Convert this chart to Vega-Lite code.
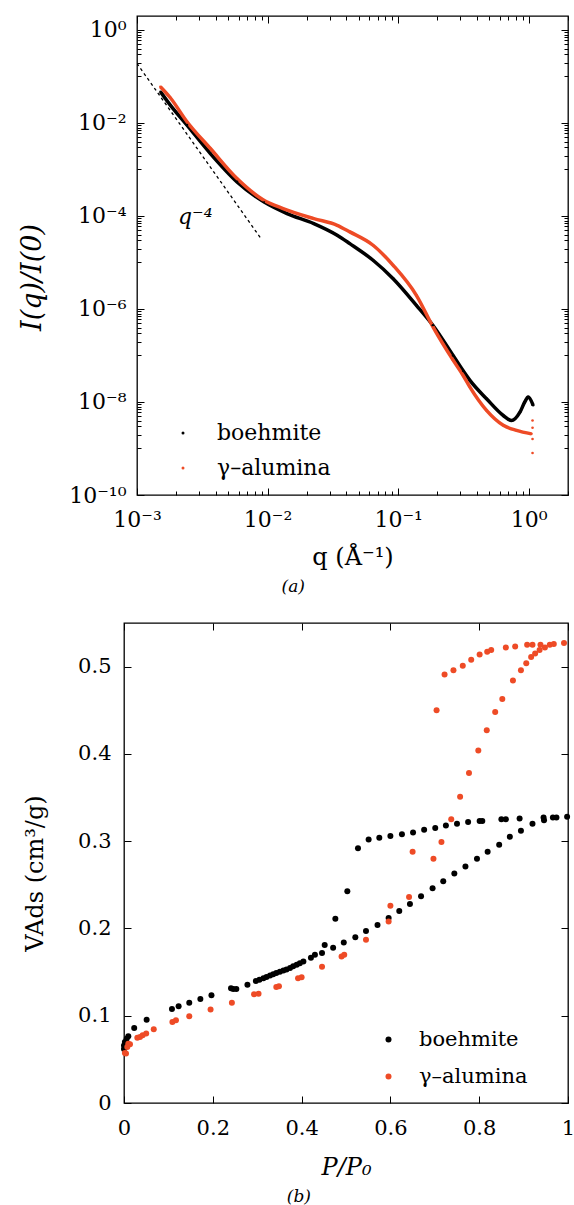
{
  "$schema": "https://vega.github.io/schema/vega-lite/v6.json",
  "padding": {"left": 17, "top": 14, "right": 4, "bottom": 0},
  "background": "white",
  "spacing": 25,
  "resolve": {"scale": {"color": "independent"}, "legend": {"color": "independent"}},
  "datasets": {
    "saxs": [
      {"sample": "boehmite", "q": 0.001514, "I": 0.0468},
      {"sample": "boehmite", "q": 0.001799, "I": 0.02427},
      {"sample": "boehmite", "q": 0.002415, "I": 0.009016},
      {"sample": "boehmite", "q": 0.003648, "I": 0.002203},
      {"sample": "boehmite", "q": 0.005834, "I": 0.000542},
      {"sample": "boehmite", "q": 0.009354, "I": 0.0002014},
      {"sample": "boehmite", "q": 0.01409, "I": 0.0001127},
      {"sample": "boehmite", "q": 0.02259, "I": 6.871e-5},
      {"sample": "boehmite", "q": 0.03412, "I": 3.864e-5},
      {"sample": "boehmite", "q": 0.04266, "I": 2.547e-5},
      {"sample": "boehmite", "q": 0.06427, "I": 1.117e-5},
      {"sample": "boehmite", "q": 0.09162, "I": 4.487e-6},
      {"sample": "boehmite", "q": 0.138, "I": 1.202e-6},
      {"sample": "boehmite", "q": 0.1845, "I": 4.467e-7},
      {"sample": "boehmite", "q": 0.2636, "I": 1.0e-7},
      {"sample": "boehmite", "q": 0.3148, "I": 4.677e-8},
      {"sample": "boehmite", "q": 0.3548, "I": 2.917e-8},
      {"sample": "boehmite", "q": 0.4753, "I": 1.175e-8},
      {"sample": "boehmite", "q": 0.6383, "I": 5.129e-9},
      {"sample": "boehmite", "q": 0.7379, "I": 3.981e-9},
      {"sample": "boehmite", "q": 0.857, "I": 6.026e-9},
      {"sample": "boehmite", "q": 0.933, "I": 1.0e-8},
      {"sample": "boehmite", "q": 0.9908, "I": 1.274e-8},
      {"sample": "boehmite", "q": 1.081, "I": 8.511e-9},
      {"sample": "γ–alumina", "q": 0.00151, "I": 0.0603},
      {"sample": "γ–alumina", "q": 0.001799, "I": 0.0349},
      {"sample": "γ–alumina", "q": 0.002415, "I": 0.01062},
      {"sample": "γ–alumina", "q": 0.003648, "I": 0.002825},
      {"sample": "γ–alumina", "q": 0.005834, "I": 0.0006383},
      {"sample": "γ–alumina", "q": 0.009354, "I": 0.0002188},
      {"sample": "γ–alumina", "q": 0.01315, "I": 0.0001445},
      {"sample": "γ–alumina", "q": 0.02259, "I": 8.79e-5},
      {"sample": "γ–alumina", "q": 0.03412, "I": 6.31e-5},
      {"sample": "γ–alumina", "q": 0.04266, "I": 4.55e-5},
      {"sample": "γ–alumina", "q": 0.06427, "I": 2.35e-5},
      {"sample": "γ–alumina", "q": 0.09162, "I": 8.71e-6},
      {"sample": "γ–alumina", "q": 0.138, "I": 1.972e-6},
      {"sample": "γ–alumina", "q": 0.1862, "I": 3.981e-7},
      {"sample": "γ–alumina", "q": 0.2636, "I": 7.943e-8},
      {"sample": "γ–alumina", "q": 0.3148, "I": 3.715e-8},
      {"sample": "γ–alumina", "q": 0.3548, "I": 2.089e-8},
      {"sample": "γ–alumina", "q": 0.4753, "I": 6.607e-9},
      {"sample": "γ–alumina", "q": 0.6383, "I": 3.162e-9},
      {"sample": "γ–alumina", "q": 0.8072, "I": 2.455e-9},
      {"sample": "γ–alumina", "q": 1.05, "I": 2.065e-9}
    ],
    "saxsEnd": [
      {"q": 1.07, "I": 4.0e-9},
      {"q": 1.07, "I": 2.8e-9},
      {"q": 1.07, "I": 1.6e-9},
      {"q": 1.07, "I": 8.0e-10}
    ],
    "q4": [
      {"q": 0.001, "I": 0.19},
      {"q": 0.00895, "I": 3.2e-5}
    ],
    "lbl": [
      {"q": 0.00206, "I": 6.8e-5, "t": "q⁻⁴"}
    ],
    "iso": [
      {"sample": "boehmite", "P": 0.0, "V": 0.062},
      {"sample": "boehmite", "P": 0.0, "V": 0.066},
      {"sample": "boehmite", "P": 0.002, "V": 0.07},
      {"sample": "boehmite", "P": 0.006, "V": 0.0737},
      {"sample": "boehmite", "P": 0.0097, "V": 0.0764},
      {"sample": "boehmite", "P": 0.023, "V": 0.0859},
      {"sample": "boehmite", "P": 0.051, "V": 0.0955},
      {"sample": "boehmite", "P": 0.108, "V": 0.1077},
      {"sample": "boehmite", "P": 0.123, "V": 0.1108},
      {"sample": "boehmite", "P": 0.147, "V": 0.115},
      {"sample": "boehmite", "P": 0.172, "V": 0.1191},
      {"sample": "boehmite", "P": 0.197, "V": 0.1234},
      {"sample": "boehmite", "P": 0.241, "V": 0.1314},
      {"sample": "boehmite", "P": 0.246, "V": 0.1306},
      {"sample": "boehmite", "P": 0.253, "V": 0.1306},
      {"sample": "boehmite", "P": 0.278, "V": 0.1356},
      {"sample": "boehmite", "P": 0.297, "V": 0.1398},
      {"sample": "boehmite", "P": 0.305, "V": 0.1413},
      {"sample": "boehmite", "P": 0.314, "V": 0.1428},
      {"sample": "boehmite", "P": 0.321, "V": 0.1443},
      {"sample": "boehmite", "P": 0.329, "V": 0.146},
      {"sample": "boehmite", "P": 0.336, "V": 0.1474},
      {"sample": "boehmite", "P": 0.343, "V": 0.149},
      {"sample": "boehmite", "P": 0.351, "V": 0.1505},
      {"sample": "boehmite", "P": 0.359, "V": 0.1517},
      {"sample": "boehmite", "P": 0.366, "V": 0.153},
      {"sample": "boehmite", "P": 0.374, "V": 0.1547},
      {"sample": "boehmite", "P": 0.381, "V": 0.1566},
      {"sample": "boehmite", "P": 0.389, "V": 0.1585},
      {"sample": "boehmite", "P": 0.396, "V": 0.16},
      {"sample": "boehmite", "P": 0.404, "V": 0.162},
      {"sample": "boehmite", "P": 0.421, "V": 0.1665},
      {"sample": "boehmite", "P": 0.43, "V": 0.17},
      {"sample": "boehmite", "P": 0.446, "V": 0.172},
      {"sample": "boehmite", "P": 0.452, "V": 0.181},
      {"sample": "boehmite", "P": 0.471, "V": 0.178},
      {"sample": "boehmite", "P": 0.476, "V": 0.211},
      {"sample": "boehmite", "P": 0.495, "V": 0.184},
      {"sample": "boehmite", "P": 0.503, "V": 0.2425},
      {"sample": "boehmite", "P": 0.521, "V": 0.19},
      {"sample": "boehmite", "P": 0.527, "V": 0.292},
      {"sample": "boehmite", "P": 0.545, "V": 0.197},
      {"sample": "boehmite", "P": 0.551, "V": 0.302},
      {"sample": "boehmite", "P": 0.571, "V": 0.204},
      {"sample": "boehmite", "P": 0.575, "V": 0.304},
      {"sample": "boehmite", "P": 0.596, "V": 0.212},
      {"sample": "boehmite", "P": 0.6, "V": 0.306},
      {"sample": "boehmite", "P": 0.62, "V": 0.22},
      {"sample": "boehmite", "P": 0.626, "V": 0.308},
      {"sample": "boehmite", "P": 0.644, "V": 0.228},
      {"sample": "boehmite", "P": 0.651, "V": 0.31},
      {"sample": "boehmite", "P": 0.669, "V": 0.237},
      {"sample": "boehmite", "P": 0.676, "V": 0.313},
      {"sample": "boehmite", "P": 0.695, "V": 0.246},
      {"sample": "boehmite", "P": 0.701, "V": 0.315},
      {"sample": "boehmite", "P": 0.719, "V": 0.254},
      {"sample": "boehmite", "P": 0.725, "V": 0.318},
      {"sample": "boehmite", "P": 0.744, "V": 0.263},
      {"sample": "boehmite", "P": 0.75, "V": 0.32},
      {"sample": "boehmite", "P": 0.769, "V": 0.271},
      {"sample": "boehmite", "P": 0.775, "V": 0.322},
      {"sample": "boehmite", "P": 0.795, "V": 0.28},
      {"sample": "boehmite", "P": 0.801, "V": 0.323},
      {"sample": "boehmite", "P": 0.807, "V": 0.323},
      {"sample": "boehmite", "P": 0.819, "V": 0.288},
      {"sample": "boehmite", "P": 0.845, "V": 0.296},
      {"sample": "boehmite", "P": 0.85, "V": 0.325},
      {"sample": "boehmite", "P": 0.86, "V": 0.325},
      {"sample": "boehmite", "P": 0.869, "V": 0.305},
      {"sample": "boehmite", "P": 0.891, "V": 0.326},
      {"sample": "boehmite", "P": 0.894, "V": 0.312},
      {"sample": "boehmite", "P": 0.92, "V": 0.32},
      {"sample": "boehmite", "P": 0.945, "V": 0.327},
      {"sample": "boehmite", "P": 0.946, "V": 0.324},
      {"sample": "boehmite", "P": 0.966, "V": 0.327},
      {"sample": "boehmite", "P": 0.974, "V": 0.327},
      {"sample": "boehmite", "P": 0.998, "V": 0.328},
      {"sample": "γ–alumina", "P": 0.002, "V": 0.0573},
      {"sample": "γ–alumina", "P": 0.0045, "V": 0.0566},
      {"sample": "γ–alumina", "P": 0.0074, "V": 0.0642},
      {"sample": "γ–alumina", "P": 0.0097, "V": 0.068},
      {"sample": "γ–alumina", "P": 0.0135, "V": 0.0672},
      {"sample": "γ–alumina", "P": 0.03, "V": 0.0749},
      {"sample": "γ–alumina", "P": 0.036, "V": 0.0756},
      {"sample": "γ–alumina", "P": 0.042, "V": 0.0776},
      {"sample": "γ–alumina", "P": 0.05, "V": 0.0795},
      {"sample": "γ–alumina", "P": 0.067, "V": 0.0844},
      {"sample": "γ–alumina", "P": 0.109, "V": 0.0928},
      {"sample": "γ–alumina", "P": 0.117, "V": 0.0947},
      {"sample": "γ–alumina", "P": 0.147, "V": 0.0993},
      {"sample": "γ–alumina", "P": 0.195, "V": 0.107},
      {"sample": "γ–alumina", "P": 0.243, "V": 0.115},
      {"sample": "γ–alumina", "P": 0.293, "V": 0.1245},
      {"sample": "γ–alumina", "P": 0.303, "V": 0.1253},
      {"sample": "γ–alumina", "P": 0.343, "V": 0.133},
      {"sample": "γ–alumina", "P": 0.349, "V": 0.1337},
      {"sample": "γ–alumina", "P": 0.392, "V": 0.143},
      {"sample": "γ–alumina", "P": 0.4, "V": 0.144},
      {"sample": "γ–alumina", "P": 0.446, "V": 0.156},
      {"sample": "γ–alumina", "P": 0.49, "V": 0.168},
      {"sample": "γ–alumina", "P": 0.496, "V": 0.17},
      {"sample": "γ–alumina", "P": 0.545, "V": 0.187},
      {"sample": "γ–alumina", "P": 0.596, "V": 0.208},
      {"sample": "γ–alumina", "P": 0.6, "V": 0.226},
      {"sample": "γ–alumina", "P": 0.642, "V": 0.236},
      {"sample": "γ–alumina", "P": 0.65, "V": 0.288},
      {"sample": "γ–alumina", "P": 0.697, "V": 0.28},
      {"sample": "γ–alumina", "P": 0.704, "V": 0.45},
      {"sample": "γ–alumina", "P": 0.715, "V": 0.299},
      {"sample": "γ–alumina", "P": 0.722, "V": 0.491},
      {"sample": "γ–alumina", "P": 0.737, "V": 0.325},
      {"sample": "γ–alumina", "P": 0.742, "V": 0.496},
      {"sample": "γ–alumina", "P": 0.757, "V": 0.351},
      {"sample": "γ–alumina", "P": 0.763, "V": 0.501},
      {"sample": "γ–alumina", "P": 0.777, "V": 0.378},
      {"sample": "γ–alumina", "P": 0.782, "V": 0.508},
      {"sample": "γ–alumina", "P": 0.798, "V": 0.404},
      {"sample": "γ–alumina", "P": 0.801, "V": 0.514},
      {"sample": "γ–alumina", "P": 0.817, "V": 0.427},
      {"sample": "γ–alumina", "P": 0.818, "V": 0.517},
      {"sample": "γ–alumina", "P": 0.827, "V": 0.519},
      {"sample": "γ–alumina", "P": 0.836, "V": 0.448},
      {"sample": "γ–alumina", "P": 0.852, "V": 0.463},
      {"sample": "γ–alumina", "P": 0.86, "V": 0.522},
      {"sample": "γ–alumina", "P": 0.876, "V": 0.484},
      {"sample": "γ–alumina", "P": 0.881, "V": 0.523},
      {"sample": "γ–alumina", "P": 0.894, "V": 0.496},
      {"sample": "γ–alumina", "P": 0.906, "V": 0.504},
      {"sample": "γ–alumina", "P": 0.908, "V": 0.525},
      {"sample": "γ–alumina", "P": 0.917, "V": 0.511},
      {"sample": "γ–alumina", "P": 0.92, "V": 0.525},
      {"sample": "γ–alumina", "P": 0.926, "V": 0.515},
      {"sample": "γ–alumina", "P": 0.936, "V": 0.519},
      {"sample": "γ–alumina", "P": 0.938, "V": 0.525},
      {"sample": "γ–alumina", "P": 0.948, "V": 0.522},
      {"sample": "γ–alumina", "P": 0.959, "V": 0.525},
      {"sample": "γ–alumina", "P": 0.968, "V": 0.526},
      {"sample": "γ–alumina", "P": 0.991, "V": 0.527}
    ]
  },
  "vconcat": [
    {
      "hconcat": [
        {
          "width": 13,
          "height": 479,
          "view": {"stroke": null},
          "data": {"values": [{"a": 0}]},
          "mark": {"type": "point", "opacity": 0}
        },
        {
          "width": 431,
          "height": 479,
          "title": {"text": "(a)", "orient": "bottom", "anchor": "middle", "frame": "bounds", "fontStyle": "italic", "fontWeight": "normal", "fontSize": 17, "font": "DejaVu Serif", "color": "#000", "offset": 10},
          "layer": [
            {
              "data": {"name": "saxs"},
              "mark": {"type": "line", "strokeWidth": 3.5, "clip": true, "interpolate": "monotone"},
              "encoding": {
                "x": {"field": "q", "type": "quantitative",
                  "scale": {"type": "log", "domain": [0.001, 2], "nice": false},
                  "axis": {"orient": "bottom", "title": "q (Å⁻¹)", "titleFontSize": 24, "titleBaseline": "middle", "titleY": 62,
                    "values": [0.001,0.002,0.003,0.004,0.005,0.006,0.007,0.008,0.009,0.01,0.02,0.03,0.04,0.05,0.06,0.07,0.08,0.09,0.1,0.2,0.3,0.4,0.5,0.6,0.7,0.8,0.9,1,2],
                    "tickSize": -7,
                    "tickDash": {"condition": {"test": "abs(log(datum.value)/LN10 - round(log(datum.value)/LN10)) < 0.001", "value": []}, "value": [4, 20]},
                    "labelExpr": "abs(log(datum.value)/LN10 - round(log(datum.value)/LN10)) < 0.001 ? ['10⁻³','10⁻²','10⁻¹','10⁰'][round(log(datum.value)/LN10)+3] : ''",
                    "labelFontSize": 22, "labelPadding": 21}},
                "y": {"field": "I", "type": "quantitative",
                  "scale": {"type": "log", "domain": [1e-10, 2], "nice": false},
                  "axis": {"orient": "left", "title": "I(q)/I(0)", "titleFontStyle": "italic", "titleFontSize": 27, "titleX": -91, "titleY": 261, "titleBaseline": "bottom",
                    "values": [1e-10,1e-9,2e-9,3e-9,4e-9,5e-9,6e-9,7e-9,8e-9,9e-9,1e-8,1e-7,2e-7,3e-7,4e-7,5e-7,6e-7,7e-7,8e-7,9e-7,1e-6,1e-5,2e-5,3e-5,4e-5,5e-5,6e-5,7e-5,8e-5,9e-5,1e-4,0.001,0.002,0.003,0.004,0.005,0.006,0.007,0.008,0.009,0.01,0.1,0.2,0.3,0.4,0.5,0.6,0.7,0.8,0.9,1],
                    "tickSize": -7,
                    "tickDash": {"condition": {"test": "abs(log(datum.value)/LN10 - round(log(datum.value)/LN10)) < 0.001 && round(log(datum.value)/LN10) % 2 == 0", "value": []}, "value": [4, 20]},
                    "labelExpr": "abs(log(datum.value)/LN10 - round(log(datum.value)/LN10)) < 0.001 && round(log(datum.value)/LN10) % 2 == 0 ? ['10⁻¹⁰','','10⁻⁸','','10⁻⁶','','10⁻⁴','','10⁻²','','10⁰'][round(log(datum.value)/LN10)+10] : ''",
                    "labelFontSize": 22, "labelPadding": 18}},
                "color": {"field": "sample", "type": "nominal",
                  "scale": {"domain": ["boehmite", "γ–alumina"], "range": ["#000000", "#ee4b26"]},
                  "legend": null}
              }
            },
            {
              "data": {"name": "saxs"},
              "mark": {"type": "circle", "size": 7, "opacity": 1, "clip": true},
              "encoding": {
                "x": {"field": "q", "type": "quantitative",
                  "scale": {"type": "log", "domain": [0.001, 2], "nice": false},
                  "axis": {"orient": "top", "title": null, "labels": false,
                    "values": [0.001,0.002,0.003,0.004,0.005,0.006,0.007,0.008,0.009,0.01,0.02,0.03,0.04,0.05,0.06,0.07,0.08,0.09,0.1,0.2,0.3,0.4,0.5,0.6,0.7,0.8,0.9,1,2],
                    "tickSize": -7,
                    "tickDash": {"condition": {"test": "abs(log(datum.value)/LN10 - round(log(datum.value)/LN10)) < 0.001", "value": []}, "value": [4, 20]}}},
                "y": {"field": "I", "type": "quantitative",
                  "scale": {"type": "log", "domain": [1e-10, 2], "nice": false},
                  "axis": {"orient": "right", "title": null, "labels": false,
                    "values": [1e-10,1e-9,2e-9,3e-9,4e-9,5e-9,6e-9,7e-9,8e-9,9e-9,1e-8,1e-7,2e-7,3e-7,4e-7,5e-7,6e-7,7e-7,8e-7,9e-7,1e-6,1e-5,2e-5,3e-5,4e-5,5e-5,6e-5,7e-5,8e-5,9e-5,1e-4,0.001,0.002,0.003,0.004,0.005,0.006,0.007,0.008,0.009,0.01,0.1,0.2,0.3,0.4,0.5,0.6,0.7,0.8,0.9,1],
                    "tickSize": -7,
                    "tickDash": {"condition": {"test": "abs(log(datum.value)/LN10 - round(log(datum.value)/LN10)) < 0.001 && round(log(datum.value)/LN10) % 2 == 0", "value": []}, "value": [4, 20]}}},
                "color": {"field": "sample", "type": "nominal",
                  "scale": {"domain": ["boehmite", "γ–alumina"], "range": ["#000000", "#ee4b26"]},
                  "legend": {"orient": "none", "legendX": 35, "legendY": 406, "title": null, "symbolType": "circle", "symbolSize": 9, "labelFontSize": 22, "labelFont": "DejaVu Serif", "labelColor": "#000", "labelOffset": 23, "rowPadding": 13, "padding": 0}}
              }
            },
            {
              "data": {"name": "saxsEnd"},
              "mark": {"type": "circle", "size": 7, "opacity": 1, "color": "#ee4b26", "clip": true},
              "encoding": {
                "x": {"field": "q", "type": "quantitative", "scale": {"type": "log", "domain": [0.001, 2], "nice": false}, "axis": null},
                "y": {"field": "I", "type": "quantitative", "scale": {"type": "log", "domain": [1e-10, 2], "nice": false}, "axis": null}
              }
            },
            {
              "data": {"name": "q4"},
              "mark": {"type": "line", "color": "#000", "strokeWidth": 1.3, "strokeDash": [3, 3], "clip": true},
              "encoding": {
                "x": {"field": "q", "type": "quantitative", "scale": {"type": "log", "domain": [0.001, 2], "nice": false}, "axis": null},
                "y": {"field": "I", "type": "quantitative", "scale": {"type": "log", "domain": [1e-10, 2], "nice": false}, "axis": null}
              }
            },
            {
              "data": {"name": "lbl"},
              "mark": {"type": "text", "align": "left", "baseline": "alphabetic", "fontSize": 22, "font": "DejaVu Serif", "fontStyle": "italic", "color": "#000"},
              "encoding": {
                "x": {"field": "q", "type": "quantitative", "scale": {"type": "log", "domain": [0.001, 2], "nice": false}, "axis": null},
                "y": {"field": "I", "type": "quantitative", "scale": {"type": "log", "domain": [1e-10, 2], "nice": false}, "axis": null},
                "text": {"field": "t", "type": "nominal"}
              }
            }
          ],
          "resolve": {"axis": {"x": "independent", "y": "independent"}, "legend": {"color": "independent"}}
        }
      ],
      "spacing": 0,
      "bounds": "flush"
    },
    {
      "width": 444,
      "height": 480,
      "title": {"text": "(b)", "orient": "bottom", "anchor": "middle", "frame": "bounds", "fontStyle": "italic", "fontWeight": "normal", "fontSize": 17, "font": "DejaVu Serif", "color": "#000", "offset": 10},
      "layer": [
        {
          "data": {"name": "iso"},
          "mark": {"type": "circle", "size": 36, "opacity": 1},
          "encoding": {
            "x": {"field": "P", "type": "quantitative",
              "scale": {"domain": [0, 1], "nice": false, "zero": false},
              "axis": {"orient": "bottom", "title": "P/P₀", "titleFontStyle": "italic", "titleFontSize": 24, "titleBaseline": "middle", "titleY": 64,
                "values": [0, 0.2, 0.4, 0.6, 0.8, 1], "format": "~g", "tickSize": -7, "labelFontSize": 21, "labelPadding": 21}},
            "y": {"field": "V", "type": "quantitative",
              "scale": {"domain": [0, 0.55], "nice": false, "zero": false},
              "axis": {"orient": "left", "title": "VAds (cm³/g)", "titleFontSize": 24, "titleX": -77, "titleY": 250, "titleBaseline": "bottom",
                "values": [0, 0.1, 0.2, 0.3, 0.4, 0.5], "format": "~g", "tickSize": -7, "labelFontSize": 21, "labelPadding": 20}},
            "color": {"field": "sample", "type": "nominal",
              "scale": {"domain": ["boehmite", "γ–alumina"], "range": ["#000000", "#ee4b26"]},
              "legend": {"orient": "none", "legendX": 254, "legendY": 406, "title": null, "symbolType": "circle", "symbolSize": 36, "labelFontSize": 21, "labelFont": "DejaVu Serif", "labelColor": "#000", "labelOffset": 20, "rowPadding": 15, "padding": 0}}
          }
        },
        {
          "data": {"name": "iso"},
          "mark": {"type": "circle", "size": 36, "opacity": 0},
          "encoding": {
            "x": {"field": "P", "type": "quantitative",
              "scale": {"domain": [0, 1], "nice": false, "zero": false},
              "axis": {"orient": "top", "title": null, "labels": false, "values": [0, 0.2, 0.4, 0.6, 0.8, 1], "tickSize": -7}},
            "y": {"field": "V", "type": "quantitative",
              "scale": {"domain": [0, 0.55], "nice": false, "zero": false},
              "axis": {"orient": "right", "title": null, "labels": false, "values": [0, 0.1, 0.2, 0.3, 0.4, 0.5], "tickSize": -7}}
          }
        }
      ],
      "resolve": {"axis": {"x": "independent", "y": "independent"}}
    }
  ],
  "config": {
    "font": "DejaVu Serif",
    "view": {"stroke": "#000", "strokeWidth": 1.3},
    "axis": {"domain": false, "grid": false, "tickColor": "#000", "tickWidth": 1, "labelColor": "#000", "titleColor": "#000", "titleFontWeight": "normal", "labelFont": "DejaVu Serif", "titleFont": "DejaVu Serif", "labelOverlap": false, "labelFlush": false},
    "legend": {"labelFont": "DejaVu Serif"}
  }
}
